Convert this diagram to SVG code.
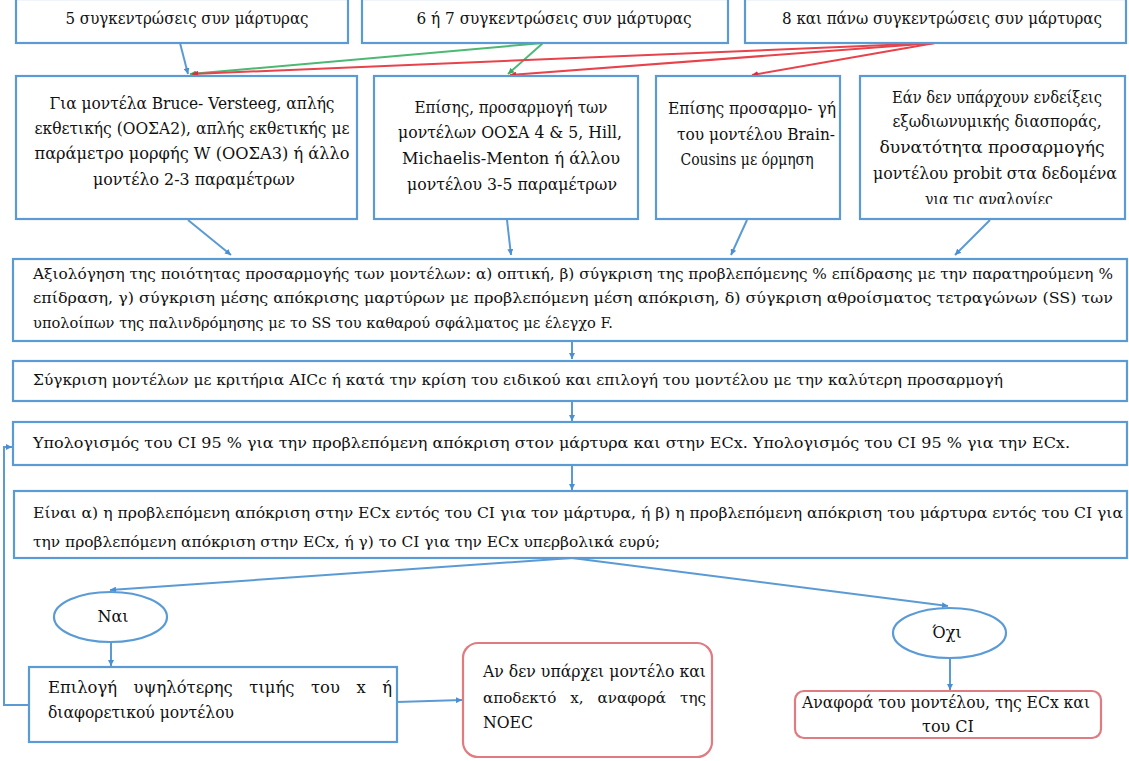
<svg xmlns="http://www.w3.org/2000/svg" width="1129" height="761" viewBox="0 0 1129 761" font-family="DejaVu Serif, serif">
<style>
.box{fill:#fff;stroke:#5b9bd5;stroke-width:2.2}
.rbox{fill:#fff;stroke:#e07b82;stroke-width:2.2}
.t{font-family:'DejaVu Serif',serif;fill:#111;font-size:16px}
.s{font-size:15px}
.c{text-anchor:middle}
.bl{fill:none;stroke:#5b9bd5;stroke-width:2}
.rd{fill:none;stroke:#e8424b;stroke-width:2}
.gr{fill:none;stroke:#4cb872;stroke-width:2}
</style>
<defs>
<marker id="ab" markerWidth="7" markerHeight="6" refX="6" refY="3" orient="auto" markerUnits="userSpaceOnUse"><path d="M0,0 L6,3 L0,6 z" fill="#4a8fd4"/></marker>
<marker id="ar" markerWidth="7" markerHeight="6" refX="6" refY="3" orient="auto" markerUnits="userSpaceOnUse"><path d="M0,0 L6,3 L0,6 z" fill="#e02a35"/></marker>
<marker id="ag" markerWidth="7" markerHeight="6" refX="6" refY="3" orient="auto" markerUnits="userSpaceOnUse"><path d="M0,0 L6,3 L0,6 z" fill="#3cab62"/></marker>
<clipPath id="clip7"><rect x="860" y="76" width="266" height="128"/></clipPath>
</defs>

<g id="connectors">
<line class="bl" x1="180" y1="43" x2="188" y2="74" marker-end="url(#ab)"/>
<line class="gr" x1="543" y1="43" x2="190" y2="74" marker-end="url(#ag)"/>
<line class="gr" x1="543" y1="43" x2="508" y2="74" marker-end="url(#ag)"/>
<line class="rd" x1="935" y1="43" x2="192" y2="74" marker-end="url(#ar)"/>
<line class="rd" x1="935" y1="43" x2="510" y2="75" marker-end="url(#ar)"/>
<line class="rd" x1="935" y1="43" x2="752" y2="75" marker-end="url(#ar)"/>
<line class="bl" x1="188" y1="220" x2="231" y2="255" marker-end="url(#ab)"/>
<line class="bl" x1="507" y1="220" x2="511" y2="255" marker-end="url(#ab)"/>
<line class="bl" x1="747" y1="220" x2="731" y2="255" marker-end="url(#ab)"/>
<line class="bl" x1="990" y1="220" x2="955" y2="255" marker-end="url(#ab)"/>
<line class="bl" x1="572" y1="341" x2="572" y2="359" marker-end="url(#ab)"/>
<line class="bl" x1="572" y1="401" x2="572" y2="421" marker-end="url(#ab)"/>
<line class="bl" x1="572" y1="465" x2="572" y2="490" marker-end="url(#ab)"/>
<line class="bl" x1="572" y1="558" x2="110" y2="590" marker-end="url(#ab)"/>
<line class="bl" x1="572" y1="558" x2="948" y2="606" marker-end="url(#ab)"/>
<line class="bl" x1="111" y1="642" x2="111" y2="666" marker-end="url(#ab)"/>
<line class="bl" x1="950" y1="658" x2="950" y2="690" marker-end="url(#ab)"/>
<line class="bl" x1="397" y1="702" x2="462" y2="700" marker-end="url(#ab)"/>
<polyline class="bl" points="29,705 4,705 4,447 12,447" marker-end="url(#ab)"/>
</g>

<g id="n1">
<rect class="box" x="16" y="-1" width="332" height="44"/>
<text class="t c" x="187" y="24" textLength="243" lengthAdjust="spacingAndGlyphs">5 συγκεντρώσεις συν μάρτυρας</text>
</g>
<g id="n2">
<rect class="box" x="362" y="-1" width="366" height="44"/>
<text class="t c" x="554" y="24" textLength="275" lengthAdjust="spacingAndGlyphs">6 ή 7 συγκεντρώσεις συν μάρτυρας</text>
</g>
<g id="n3">
<rect class="box" x="745" y="-1" width="381" height="44"/>
<text class="t c" x="942" y="24" textLength="320" lengthAdjust="spacingAndGlyphs">8 και πάνω συγκεντρώσεις συν μάρτυρας</text>
</g>

<g id="n4">
<rect class="box" x="16" y="76" width="341" height="143"/>
<text class="t c" x="192" y="109" textLength="285" lengthAdjust="spacingAndGlyphs">Για μοντέλα Bruce- Versteeg, απλής</text>
<text class="t c" x="192" y="134" textLength="315" lengthAdjust="spacingAndGlyphs">εκθετικής (ΟΟΣΑ2), απλής εκθετικής με</text>
<text class="t c" x="192" y="159" textLength="315" lengthAdjust="spacingAndGlyphs">παράμετρο μορφής W (ΟΟΣΑ3) ή άλλο</text>
<text class="t c" x="194" y="185" textLength="202" lengthAdjust="spacingAndGlyphs">μοντέλο 2-3 παραμέτρων</text>
</g>
<g id="n5">
<rect class="box" x="374" y="76" width="264" height="143"/>
<text class="t c" x="511" y="113" textLength="193" lengthAdjust="spacingAndGlyphs">Επίσης, προσαρμογή των</text>
<text class="t c" x="510" y="138" textLength="224" lengthAdjust="spacingAndGlyphs">μοντέλων ΟΟΣΑ 4 &amp; 5, Hill,</text>
<text class="t c" x="511" y="164" textLength="218" lengthAdjust="spacingAndGlyphs">Michaelis-Menton ή άλλου</text>
<text class="t c" x="512" y="190" textLength="210" lengthAdjust="spacingAndGlyphs">μοντέλου 3-5 παραμέτρων</text>
</g>
<g id="n6">
<rect class="box" x="656" y="76" width="184" height="143"/>
<text class="t c" x="752" y="114" textLength="168" lengthAdjust="spacingAndGlyphs">Επίσης προσαρμο- γή</text>
<text class="t c" x="756" y="140" textLength="158" lengthAdjust="spacingAndGlyphs">του μοντέλου Brain-</text>
<text class="t c" x="747" y="165" textLength="133" lengthAdjust="spacingAndGlyphs">Cousins με όρμηση</text>
</g>
<g id="n7">
<rect class="box" x="860" y="76" width="265" height="143"/>
<g clip-path="url(#clip7)">
<text class="t c" x="997" y="103" textLength="210" lengthAdjust="spacingAndGlyphs">Εάν δεν υπάρχουν ενδείξεις</text>
<text class="t c" x="997" y="127" textLength="209" lengthAdjust="spacingAndGlyphs">εξωδιωνυμικής διασποράς,</text>
<text class="t c" x="992" y="153" textLength="225" lengthAdjust="spacingAndGlyphs">δυνατότητα προσαρμογής</text>
<text class="t c" x="995" y="179" textLength="244" lengthAdjust="spacingAndGlyphs">μοντέλου probit στα δεδομένα</text>
<text class="t c" x="989" y="205" textLength="128" lengthAdjust="spacingAndGlyphs">για τις αναλογίες</text>
</g>
</g>

<g id="n8">
<rect class="box" x="13" y="259" width="1114" height="82"/>
<text class="t s" x="33" y="279" textLength="1080" lengthAdjust="spacingAndGlyphs">Αξιολόγηση της ποιότητας προσαρμογής των μοντέλων: α) οπτική, β) σύγκριση της προβλεπόμενης % επίδρασης με την παρατηρούμενη %</text>
<text class="t s" x="33" y="303" textLength="1080" lengthAdjust="spacingAndGlyphs">επίδραση, γ) σύγκριση μέσης απόκρισης μαρτύρων με προβλεπόμενη μέση απόκριση, δ) σύγκριση αθροίσματος τετραγώνων (SS) των</text>
<text class="t s" x="33" y="328" textLength="580" lengthAdjust="spacingAndGlyphs">υπολοίπων της παλινδρόμησης με το SS του καθαρού σφάλματος με έλεγχο F.</text>
</g>
<g id="n9">
<rect class="box" x="13" y="361" width="1114" height="40"/>
<text class="t s" x="33" y="385" textLength="970" lengthAdjust="spacingAndGlyphs">Σύγκριση μοντέλων με κριτήρια AICc ή κατά την κρίση του ειδικού και επιλογή του μοντέλου με την καλύτερη προσαρμογή</text>
</g>
<g id="n10">
<rect class="box" x="13" y="422" width="1114" height="43"/>
<text class="t s" x="33" y="448" textLength="1037" lengthAdjust="spacingAndGlyphs">Υπολογισμός του CI 95 % για την προβλεπόμενη απόκριση  στον μάρτυρα και στην ECx. Υπολογισμός του CI 95 % για την ECx.</text>
</g>
<g id="n11">
<rect class="box" x="14" y="491" width="1113" height="67"/>
<text class="t s" x="33" y="518" textLength="1090" lengthAdjust="spacingAndGlyphs">Είναι α) η προβλεπόμενη απόκριση στην ECx εντός του CI για τον μάρτυρα, ή β) η προβλεπόμενη απόκριση του μάρτυρα εντός του CI για</text>
<text class="t s" x="33" y="547" textLength="627" lengthAdjust="spacingAndGlyphs">την προβλεπόμενη απόκριση στην ECx, ή γ) το CI για την ECx υπερβολικά ευρύ;</text>
</g>

<g id="n12">
<ellipse class="box" cx="110.5" cy="617" rx="56.5" ry="25"/>
<text class="t c" x="113" y="622">Ναι</text>
</g>
<g id="n13">
<ellipse class="box" cx="949.5" cy="633" rx="56.5" ry="25"/>
<text class="t c" x="947" y="638">Όχι</text>
</g>
<g id="n14">
<rect class="box" x="29" y="667" width="368" height="75"/>
<text class="t" x="48" y="693" word-spacing="11" textLength="344" lengthAdjust="spacingAndGlyphs">Επιλογή υψηλότερης τιμής του x ή</text>
<text class="t" x="48" y="718" textLength="186" lengthAdjust="spacingAndGlyphs">διαφορετικού μοντέλου</text>
</g>
<g id="n15">
<rect class="rbox" x="463" y="643" width="249" height="114" rx="15"/>
<text class="t" x="483" y="677" textLength="223" lengthAdjust="spacingAndGlyphs">Αν δεν υπάρχει μοντέλο και</text>
<text class="t s" x="483" y="703" word-spacing="9" textLength="223" lengthAdjust="spacingAndGlyphs">αποδεκτό x, αναφορά της</text>
<text class="t" x="483" y="728" textLength="50" lengthAdjust="spacingAndGlyphs">NOEC</text>
</g>
<g id="n16">
<rect class="rbox" x="795" y="691" width="306" height="47" rx="9"/>
<text class="t c" x="946" y="708" textLength="288" lengthAdjust="spacingAndGlyphs">Αναφορά του μοντέλου, της ECx και</text>
<text class="t c" x="948" y="732">του CI</text>
</g>
</svg>
